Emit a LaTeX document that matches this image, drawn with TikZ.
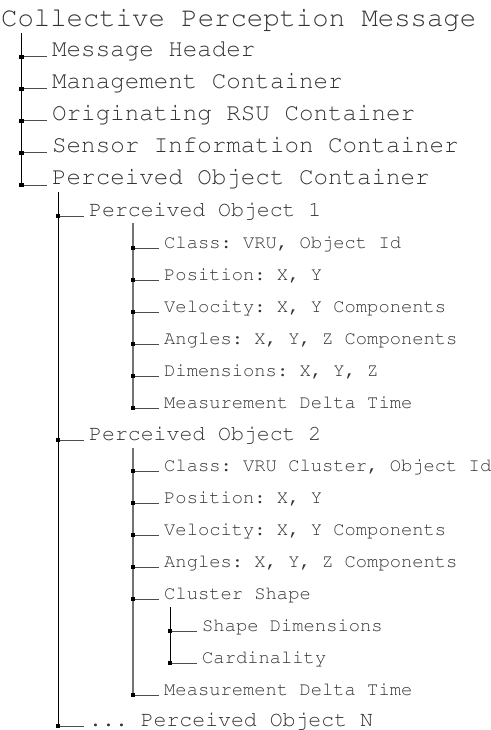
\documentclass[tikz,border=0pt]{standalone}
\usepackage[T1]{fontenc}
\begin{document}
\frenchspacing
\begin{tikzpicture}[x=1pt,y=-1pt,
  lbl/.style={anchor=base west, inner sep=0pt, text=black!80},
  t0/.style={lbl, font=\frenchspacing\fontfamily{pcr}\fontsize{27.3}{30}\selectfont},
  t1/.style={lbl, font=\frenchspacing\fontfamily{pcr}\fontsize{24.2}{28}\selectfont},
  t2/.style={lbl, font=\frenchspacing\fontfamily{pcr}\fontsize{21.5}{25}\selectfont},
  t3/.style={lbl, font=\frenchspacing\fontfamily{pcr}\fontsize{18.8}{22}\selectfont},
  trunk/.style={line width=1pt, black},
  trunkgray/.style={line width=1.5pt, black!55},
  branch/.style={line width=1pt, black!70},
  knot/.style={rectangle, fill=black, draw=none, inner sep=0pt, minimum size=4.8pt}
]
\useasboundingbox (0,0) rectangle (490,730);

% branch from a vertical trunk #1 to the label node #2
\newcommand{\twig}[2]{%
  \draw[branch] (#1 |- #2.base) -- ([xshift=-5pt]#2.base west);
  \path (#1 |- #2.base) node[knot, name=k-#2] {};}

% ---- root and top-level containers
\node[t0] (cpm) at (1,27) {Collective Perception Message};
\coordinate (v1) at (21.5,33);
\node[t1] (hdr)    at (52,57)  {Message Header};
\node[t1] (mgmt)   at (52,89)  {Management Container};
\node[t1] (rsu)    at (52,121) {Originating RSU Container};
\node[t1] (sensor) at (52,153) {Sensor Information Container};
\node[t1] (poc)    at (52,185) {Perceived Object Container};
\draw[trunk] (v1) -- (v1 |- poc.base);
\foreach \n in {hdr,mgmt,rsu,sensor,poc} {\twig{v1}{\n}}

% ---- perceived objects
\coordinate (v2) at (58,192);
\node[t2] (po1) at (89,216) {Perceived Object 1};
\node[t2] (po2) at (89,440) {Perceived Object 2};
\node[t2] (pon) at (89,726) {... Perceived Object N};

% ---- fields of object 1
\coordinate (v3a) at (133,223);
\node[t3] (a1) at (164,248) {Class: VRU, Object Id};
\node[t3] (a2) at (164,280) {Position: X, Y};
\node[t3] (a3) at (164,312) {Velocity: X, Y Components};
\node[t3] (a4) at (164,344) {Angles: X, Y, Z Components};
\node[t3] (a5) at (164,376) {Dimensions: X, Y, Z};
\node[t3] (a6) at (164,408) {Measurement Delta Time};

% ---- fields of object 2
\coordinate (v3b) at (133,448);
\node[t3] (b1) at (164,471) {Class: VRU Cluster, Object Id};
\node[t3] (b2) at (164,503) {Position: X, Y};
\node[t3] (b3) at (164,535) {Velocity: X, Y Components};
\node[t3] (b4) at (164,567) {Angles: X, Y, Z Components};
\node[t3] (b5) at (164,599) {Cluster Shape};
\node[t3] (b6) at (164,695) {Measurement Delta Time};

% ---- cluster shape details
\coordinate (v4) at (170,607);
\node[t3] (c1) at (202,631) {Shape Dimensions};
\node[t3] (c2) at (202,663) {Cardinality};

% trunks
\draw[trunk] (v2) -- (v2 |- pon.base);
\draw[trunkgray] (v3a) -- (v3a |- a6.base);
\draw[trunkgray] (v3b) -- (v3b |- b6.base);
\draw[trunk] (v4) -- (v4 |- c2.base);

% branches
\foreach \n in {po1,po2,pon} {\twig{v2}{\n}}
\foreach \n in {a1,a2,a3,a4,a5,a6} {\twig{v3a}{\n}}
\foreach \n in {b1,b2,b3,b4,b5,b6} {\twig{v3b}{\n}}
\foreach \n in {c1,c2} {\twig{v4}{\n}}
\end{tikzpicture}
\end{document}
